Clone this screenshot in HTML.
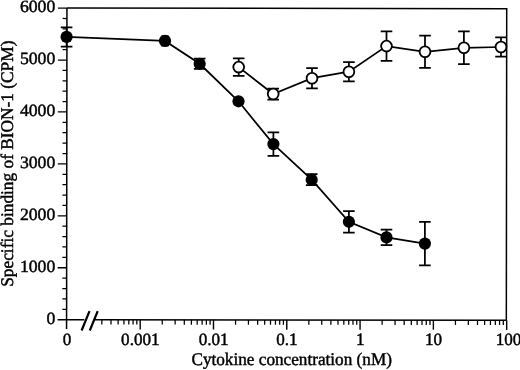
<!DOCTYPE html>
<html><head><meta charset="utf-8"><title>Chart</title>
<style>html,body{margin:0;padding:0;background:#fff;}svg{display:block;will-change:transform;}</style></head>
<body>
<svg width="520" height="370" viewBox="0 0 520 370">
<rect width="520" height="370" fill="#fff"/>
<g stroke="#000" stroke-width="1.5" fill="none" stroke-linecap="butt" transform="rotate(0.07 260 185)">
<path d="M66.75 8.35H506.5V319.92"/>
<path d="M66.75 8.35V329.22"/>
<path d="M57.75 319.92H84.5M94.5 319.92H506.5"/>
<path stroke-width="1.25" d="M62.45 309.53H66.75"/>
<path stroke-width="1.25" d="M62.45 299.15H66.75"/>
<path stroke-width="1.25" d="M62.45 288.76H66.75"/>
<path stroke-width="1.25" d="M62.45 278.38H66.75"/>
<path stroke-width="1.3" d="M57.75 267.99H66.75"/>
<path stroke-width="1.25" d="M62.45 257.61H66.75"/>
<path stroke-width="1.25" d="M62.45 247.22H66.75"/>
<path stroke-width="1.25" d="M62.45 236.83H66.75"/>
<path stroke-width="1.25" d="M62.45 226.45H66.75"/>
<path stroke-width="1.3" d="M57.75 216.06H66.75"/>
<path stroke-width="1.25" d="M62.45 205.68H66.75"/>
<path stroke-width="1.25" d="M62.45 195.29H66.75"/>
<path stroke-width="1.25" d="M62.45 184.91H66.75"/>
<path stroke-width="1.25" d="M62.45 174.52H66.75"/>
<path stroke-width="1.3" d="M57.75 164.14H66.75"/>
<path stroke-width="1.25" d="M62.45 153.75H66.75"/>
<path stroke-width="1.25" d="M62.45 143.36H66.75"/>
<path stroke-width="1.25" d="M62.45 132.98H66.75"/>
<path stroke-width="1.25" d="M62.45 122.59H66.75"/>
<path stroke-width="1.3" d="M57.75 112.21H66.75"/>
<path stroke-width="1.25" d="M62.45 101.82H66.75"/>
<path stroke-width="1.25" d="M62.45 91.44H66.75"/>
<path stroke-width="1.25" d="M62.45 81.05H66.75"/>
<path stroke-width="1.25" d="M62.45 70.66H66.75"/>
<path stroke-width="1.3" d="M57.75 60.28H66.75"/>
<path stroke-width="1.25" d="M62.45 49.89H66.75"/>
<path stroke-width="1.25" d="M62.45 39.51H66.75"/>
<path stroke-width="1.25" d="M62.45 29.12H66.75"/>
<path stroke-width="1.25" d="M62.45 18.74H66.75"/>
<path stroke-width="1.3" d="M57.75 8.35H66.75"/>
<path stroke-width="1.4" d="M140.35 319.92V329.62"/>
<path stroke-width="1.4" d="M213.65 319.92V329.62"/>
<path stroke-width="1.4" d="M286.95 319.92V329.62"/>
<path stroke-width="1.4" d="M360.25 319.92V329.62"/>
<path stroke-width="1.4" d="M433.55 319.92V329.62"/>
<path stroke-width="1.4" d="M506.85 319.92V329.62"/>
<path stroke-width="1.25" d="M102.02 319.92V324.72"/>
<path stroke-width="1.25" d="M111.18 319.92V324.72"/>
<path stroke-width="1.25" d="M118.28 319.92V324.72"/>
<path stroke-width="1.25" d="M124.09 319.92V324.72"/>
<path stroke-width="1.25" d="M129.00 319.92V324.72"/>
<path stroke-width="1.25" d="M133.25 319.92V324.72"/>
<path stroke-width="1.25" d="M137.00 319.92V324.72"/>
<path stroke-width="1.25" d="M162.42 319.92V324.72"/>
<path stroke-width="1.25" d="M175.32 319.92V324.72"/>
<path stroke-width="1.25" d="M184.48 319.92V324.72"/>
<path stroke-width="1.25" d="M191.58 319.92V324.72"/>
<path stroke-width="1.25" d="M197.39 319.92V324.72"/>
<path stroke-width="1.25" d="M202.30 319.92V324.72"/>
<path stroke-width="1.25" d="M206.55 319.92V324.72"/>
<path stroke-width="1.25" d="M210.30 319.92V324.72"/>
<path stroke-width="1.25" d="M235.72 319.92V324.72"/>
<path stroke-width="1.25" d="M248.62 319.92V324.72"/>
<path stroke-width="1.25" d="M257.78 319.92V324.72"/>
<path stroke-width="1.25" d="M264.88 319.92V324.72"/>
<path stroke-width="1.25" d="M270.69 319.92V324.72"/>
<path stroke-width="1.25" d="M275.60 319.92V324.72"/>
<path stroke-width="1.25" d="M279.85 319.92V324.72"/>
<path stroke-width="1.25" d="M283.60 319.92V324.72"/>
<path stroke-width="1.25" d="M309.02 319.92V324.72"/>
<path stroke-width="1.25" d="M321.92 319.92V324.72"/>
<path stroke-width="1.25" d="M331.08 319.92V324.72"/>
<path stroke-width="1.25" d="M338.18 319.92V324.72"/>
<path stroke-width="1.25" d="M343.99 319.92V324.72"/>
<path stroke-width="1.25" d="M348.90 319.92V324.72"/>
<path stroke-width="1.25" d="M353.15 319.92V324.72"/>
<path stroke-width="1.25" d="M356.90 319.92V324.72"/>
<path stroke-width="1.25" d="M382.32 319.92V324.72"/>
<path stroke-width="1.25" d="M395.22 319.92V324.72"/>
<path stroke-width="1.25" d="M404.38 319.92V324.72"/>
<path stroke-width="1.25" d="M411.48 319.92V324.72"/>
<path stroke-width="1.25" d="M417.29 319.92V324.72"/>
<path stroke-width="1.25" d="M422.20 319.92V324.72"/>
<path stroke-width="1.25" d="M426.45 319.92V324.72"/>
<path stroke-width="1.25" d="M430.20 319.92V324.72"/>
<path stroke-width="1.25" d="M455.62 319.92V324.72"/>
<path stroke-width="1.25" d="M468.52 319.92V324.72"/>
<path stroke-width="1.25" d="M477.68 319.92V324.72"/>
<path stroke-width="1.25" d="M484.78 319.92V324.72"/>
<path stroke-width="1.25" d="M490.59 319.92V324.72"/>
<path stroke-width="1.25" d="M495.50 319.92V324.72"/>
<path stroke-width="1.25" d="M499.75 319.92V324.72"/>
<path stroke-width="1.25" d="M503.50 319.92V324.72"/>
</g>
<g stroke="#000" stroke-width="2.2" fill="none"><path d="M81.6 330.5L89.5 311.1M89.8 330.5L97.7 311.1"/></g>
<g stroke="#000" stroke-width="1.75" fill="none">
<polyline points="238.7,67.10 273.2,94.00 312,78.20 348.9,71.70 386.5,46.10 425.0,51.75 463.9,47.80 501.0,47.00"/>
<path d="M238.7 58.30V75.90M232.90 58.30H244.50M232.90 75.90H244.50"/>
<path d="M273.2 88.50V99.50M267.40 88.50H279.00M267.40 99.50H279.00"/>
<path d="M312 68.10V88.30M306.20 68.10H317.80M306.20 88.30H317.80"/>
<path d="M348.9 62.00V81.40M343.10 62.00H354.70M343.10 81.40H354.70"/>
<path d="M386.5 31.40V60.80M380.70 31.40H392.30M380.70 60.80H392.30"/>
<path d="M425.0 35.65V67.85M419.20 35.65H430.80M419.20 67.85H430.80"/>
<path d="M463.9 31.40V64.20M458.10 31.40H469.70M458.10 64.20H469.70"/>
<path d="M501.0 37.40V56.60M495.20 37.40H506.80M495.20 56.60H506.80"/>
</g>
<circle cx="238.7" cy="67.10" r="5.4" fill="#fff" stroke="#000" stroke-width="1.8"/>
<circle cx="273.2" cy="94.00" r="5.4" fill="#fff" stroke="#000" stroke-width="1.8"/>
<circle cx="312" cy="78.20" r="5.4" fill="#fff" stroke="#000" stroke-width="1.8"/>
<circle cx="348.9" cy="71.70" r="5.4" fill="#fff" stroke="#000" stroke-width="1.8"/>
<circle cx="386.5" cy="46.10" r="5.4" fill="#fff" stroke="#000" stroke-width="1.8"/>
<circle cx="425.0" cy="51.75" r="5.4" fill="#fff" stroke="#000" stroke-width="1.8"/>
<circle cx="463.9" cy="47.80" r="5.4" fill="#fff" stroke="#000" stroke-width="1.8"/>
<circle cx="501.0" cy="47.00" r="5.4" fill="#fff" stroke="#000" stroke-width="1.8"/>
<g stroke="#000" stroke-width="1.75" fill="none">
<polyline points="66.6,36.90 165.0,40.90 199.7,63.80 238.5,101.30 273.4,144.10 311.7,179.70 348.9,221.80 386.5,237.40 424.9,243.60"/>
<path d="M66.6 27.30V46.50M60.80 27.30H72.40M60.80 46.50H72.40"/>
<path d="M165.0 36.20V45.60M161.40 36.20H168.60M161.40 45.60H168.60"/>
<path d="M199.7 58.70V68.90M193.90 58.70H205.50M193.90 68.90H205.50"/>
<path d="M273.4 132.30V155.90M267.60 132.30H279.20M267.60 155.90H279.20"/>
<path d="M311.7 174.20V185.20M305.90 174.20H317.50M305.90 185.20H317.50"/>
<path d="M348.9 211.00V232.60M343.10 211.00H354.70M343.10 232.60H354.70"/>
<path d="M386.5 229.60V245.20M380.70 229.60H392.30M380.70 245.20H392.30"/>
<path d="M424.9 221.80V265.40M419.10 221.80H430.70M419.10 265.40H430.70"/>
</g>
<circle cx="66.6" cy="36.90" r="6.1" fill="#000"/>
<circle cx="165.0" cy="40.90" r="6.1" fill="#000"/>
<circle cx="199.7" cy="63.80" r="6.1" fill="#000"/>
<circle cx="238.5" cy="101.30" r="6.1" fill="#000"/>
<circle cx="273.4" cy="144.10" r="6.1" fill="#000"/>
<circle cx="311.7" cy="179.70" r="6.1" fill="#000"/>
<circle cx="348.9" cy="221.80" r="6.1" fill="#000"/>
<circle cx="386.5" cy="237.40" r="6.1" fill="#000"/>
<circle cx="424.9" cy="243.60" r="6.1" fill="#000"/>
<g font-family="Liberation Serif, Times New Roman, serif" font-size="17.8" fill="#000" stroke="#000" stroke-width="0.45" style="text-rendering:geometricPrecision">
<text font-size="17.2" transform="translate(55.3,324.02) scale(1.03,1)" text-anchor="end">0</text>
<text font-size="17.2" transform="translate(55.3,272.09) scale(1.03,1)" text-anchor="end">1000</text>
<text font-size="17.2" transform="translate(55.3,220.16) scale(1.03,1)" text-anchor="end">2000</text>
<text font-size="17.2" transform="translate(55.3,168.24) scale(1.03,1)" text-anchor="end">3000</text>
<text font-size="17.2" transform="translate(55.3,116.31) scale(1.03,1)" text-anchor="end">4000</text>
<text font-size="17.2" transform="translate(55.3,64.38) scale(1.03,1)" text-anchor="end">5000</text>
<text font-size="17.2" transform="translate(55.3,12.45) scale(1.03,1)" text-anchor="end">6000</text>
<text transform="translate(67.10,344.56) scale(0.99,1)" font-size="17.3" text-anchor="middle">0</text>
<text transform="translate(140.35,344.67) scale(0.99,1)" font-size="17.3" text-anchor="middle">0.001</text>
<text transform="translate(213.65,344.78) scale(0.99,1)" font-size="17.3" text-anchor="middle">0.01</text>
<text transform="translate(286.95,344.89) scale(0.99,1)" font-size="17.3" text-anchor="middle">0.1</text>
<text transform="translate(360.25,345.00) scale(0.99,1)" font-size="17.3" text-anchor="middle">1</text>
<text transform="translate(433.55,345.11) scale(0.99,1)" font-size="17.3" text-anchor="middle">10</text>
<text transform="translate(508.45,345.22) scale(0.99,1)" font-size="17.3" text-anchor="middle">100</text>
<text x="291.7" y="364.6" text-anchor="middle" textLength="200.5" lengthAdjust="spacingAndGlyphs">Cytokine concentration (nM)</text>
<text transform="translate(13.1,163.7) rotate(-90)" text-anchor="middle" textLength="246.2" lengthAdjust="spacingAndGlyphs">Specific binding of BION-1 (CPM)</text>
</g>
</svg>
</body></html>
